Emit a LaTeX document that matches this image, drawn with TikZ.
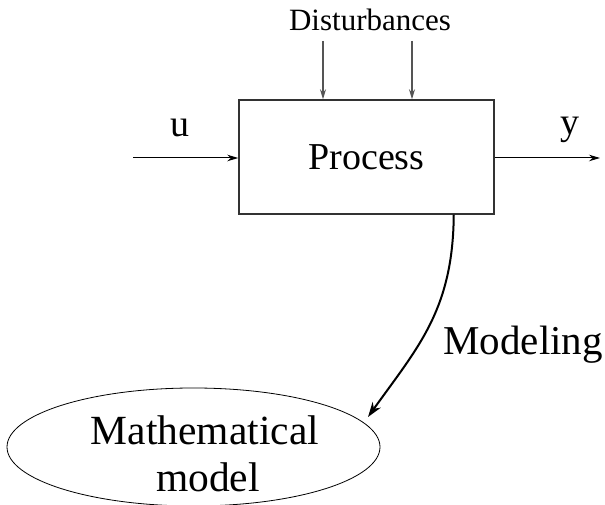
\documentclass[tikz,border=0pt]{standalone}
\usepackage{fontspec}
\setmainfont{Liberation Serif}
\usetikzlibrary{shapes.geometric,arrows.meta}
\definecolor{boxgray}{RGB}{50,50,50}
\definecolor{distgray}{RGB}{85,85,85}

\begin{document}
\begin{tikzpicture}[x=1pt, y=1pt,
  signal/.style={-{Stealth[length=11pt,width=6.5pt]}, line width=1pt, black},
  disturb/.style={-{Stealth[length=10pt,width=6pt]}, line width=1.1pt, distgray},
  model/.style={-{Stealth[length=15pt,width=10pt]}, line width=2pt, black}]
\useasboundingbox (0,0) rectangle (605,505);
\node[draw=boxgray, line width=1.5pt, minimum width=255pt, minimum height=114pt, inner sep=0pt,
  font=\fontsize{38}{40}\selectfont] (proc) at (366.5,348) {Process};
\node[anchor=base, font=\fontsize{31}{33}\selectfont] (dist) at (370,474) {Disturbances};
\coordinate (d1) at (323,464);
\coordinate (d2) at (412,464);
\draw[disturb] (d1) -- (d1 |- proc.north);
\draw[disturb] (d2) -- (d2 |- proc.north);
\coordinate (uin) at (133,347);
\coordinate (yout) at (600,347);
\draw[signal] (uin) -- (uin -| proc.west);
\draw[signal] (yout -| proc.east) -- (yout);
\node[anchor=base, font=\fontsize{38}{40}\selectfont] (ulab) at (180,368) {u};
\node[anchor=base, font=\fontsize{38}{40}\selectfont] (ylab) at (570,370) {y};
\node[draw, ellipse, line width=0.8pt, minimum width=373pt, minimum height=118pt, inner sep=0pt] (mm) at (193.5,58) {};
\node[anchor=base, font=\fontsize{41.5}{45}\selectfont] (mmtop) at (205,60) {Mathematical};
\node[anchor=base, font=\fontsize{41.5}{45}\selectfont] (mmbot) at (208,13) {model};
\coordinate (tip) at (368,88);
\draw[model] ([xshift=-41pt]proc.south east) .. controls (453,195) and (418,158) .. (tip);
\node[anchor=base west, font=\fontsize{41}{44}\selectfont] (modlab) at (440,150) {Modeling};
\end{tikzpicture}
\end{document}
